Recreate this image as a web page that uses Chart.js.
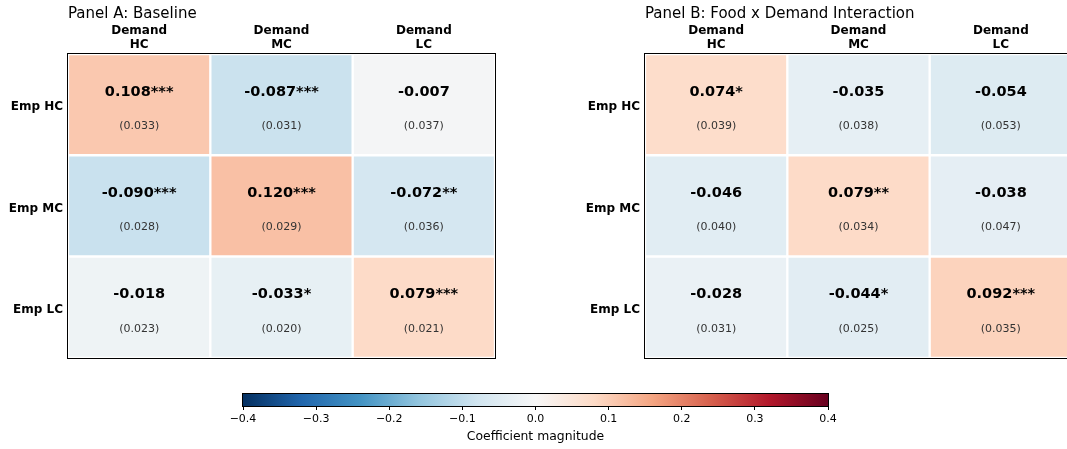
<!DOCTYPE html>
<html><head><meta charset="utf-8">
<script src="https://cdn.jsdelivr.net/npm/chart.js@4.4.1/dist/chart.umd.min.js"></script>
<style>
html,body{margin:0;padding:0;background:#fff;width:1067px;height:449px;overflow:hidden;position:relative;}
.box{position:absolute;}
</style></head><body>
<div class="box" style="left:0;top:0;width:520px;height:370px"><canvas id="cA"></canvas></div>
<div class="box" style="left:577px;top:0;width:520px;height:370px"><canvas id="cB"></canvas></div>
<div class="box" style="left:0;top:380px;width:1067px;height:69px"><canvas id="cBar"></canvas></div>
<script>
// ---- data ----
const colLabels = [['Demand', 'HC'], ['Demand', 'MC'], ['Demand', 'LC']];
const rowLabels = ['Emp HC', 'Emp MC', 'Emp LC'];

const titleA = 'Panel A: Baseline';
const coefA = [[0.108, -0.087, -0.007], [-0.090, 0.120, -0.072], [-0.018, -0.033, 0.079]];
const seA = [[0.033, 0.031, 0.037], [0.028, 0.029, 0.036], [0.023, 0.020, 0.021]];
const starsA = [['***', '***', ''], ['***', '***', '**'], ['', '*', '***']];

const titleB = 'Panel B: Food x Demand Interaction';
const coefB = [[0.074, -0.035, -0.054], [-0.046, 0.079, -0.038], [-0.028, -0.044, 0.092]];
const seB = [[0.039, 0.038, 0.053], [0.040, 0.034, 0.047], [0.031, 0.025, 0.035]];
const starsB = [['*', '', ''], ['', '**', ''], ['', '*', '***']];

const cbMin = -0.4, cbMax = 0.4, cbStep = 0.1;
const cbTitle = 'Coefficient magnitude';

// ---- colormap (RdBu_r) ----
const rdbuStops = ['#053061', '#2166ac', '#4393c3', '#92c5de', '#d1e5f0', '#f7f7f7',
  '#fddbc7', '#f4a582', '#d6604d', '#b2182b', '#67001f'];
function hex2rgb(h) { return [1, 3, 5].map(i => parseInt(h.substr(i, 2), 16)); }
function cmap(v) {
  let t = (v - cbMin) / (cbMax - cbMin);
  t = Math.max(0, Math.min(1, t));
  const p = t * (rdbuStops.length - 1);
  const i = Math.min(Math.floor(p), rdbuStops.length - 2);
  const f = p - i;
  const a = hex2rgb(rdbuStops[i]), b = hex2rgb(rdbuStops[i + 1]);
  const c = a.map((x, k) => Math.round(x + (b[k] - x) * f));
  return `rgb(${c[0]},${c[1]},${c[2]})`;
}

const FONT = "'DejaVu Sans', 'Liberation Sans', sans-serif";
Chart.defaults.font.family = FONT;
Chart.defaults.color = '#000';

function framePlugin() {
  return {
    id: 'frame',
    afterDraw(chart) {
      const a = chart.chartArea, ctx = chart.ctx;
      ctx.save();
      ctx.strokeStyle = '#000';
      ctx.lineWidth = 1;
      ctx.strokeRect(Math.round(a.left) - 0.5, Math.round(a.top) - 0.5,
        Math.round(a.right - a.left) + 1, Math.round(a.bottom - a.top) + 1);
      ctx.restore();
    }
  };
}

function heatmap(id, title, coef, se, stars) {
  const datasets = coef.map((row, r) => ({
    label: rowLabels[r],
    data: row.map(() => [r, r + 1]),
    backgroundColor: row.map(v => cmap(v)),
    borderColor: '#fff',
    borderWidth: 1.5,
    borderSkipped: false,
    grouped: false,
    barPercentage: 1,
    categoryPercentage: 1
  }));
  const textPlugin = {
    id: 'cellText',
    afterDatasetsDraw(chart) {
      const ctx = chart.ctx;
      ctx.save();
      ctx.textAlign = 'center';
      ctx.textBaseline = 'alphabetic';
      chart.data.datasets.forEach((ds, r) => {
        chart.getDatasetMeta(r).data.forEach((el, c) => {
          const cx = el.x, cy = (el.y + el.base) / 2;
          ctx.fillStyle = '#000';
          ctx.font = `bold 14.5px ${FONT}`;
          ctx.fillText(coef[r][c].toFixed(3) + stars[r][c], cx, cy - 9);
          ctx.fillStyle = '#333';
          ctx.font = `11px ${FONT}`;
          ctx.fillText('(' + se[r][c].toFixed(3) + ')', cx, cy + 24.5);
        });
      });
      ctx.restore();
    },
    afterDraw(chart) {
      const ctx = chart.ctx;
      ctx.save();
      ctx.fillStyle = '#000';
      ctx.font = `15px ${FONT}`;
      ctx.textAlign = 'left';
      ctx.textBaseline = 'alphabetic';
      ctx.fillText(title, chart.chartArea.left, 17.5);
      ctx.restore();
    }
  };
  return new Chart(document.getElementById(id), {
    type: 'bar',
    data: { labels: colLabels, datasets },
    options: {
      responsive: true,
      maintainAspectRatio: false,
      animation: false,
      layout: { padding: { left: 0, right: 25, top: 0, bottom: 11 } },
      plugins: { legend: { display: false }, tooltip: { enabled: false }, title: { display: false } },
      scales: {
        x: {
          type: 'category',
          position: 'top',
          grid: { display: false, drawTicks: false },
          border: { display: false },
          ticks: { font: { size: 12, weight: 'bold', lineHeight: 1.2 }, color: '#000', padding: 2, maxRotation: 0 },
          afterFit(s) { s.height = 54; }
        },
        y: {
          type: 'linear',
          min: 0, max: rowLabels.length,
          reverse: true,
          grid: { display: false, drawTicks: false },
          border: { display: false },
          afterBuildTicks(s) { s.ticks = rowLabels.map((_, i) => ({ value: i + 0.5 })); },
          ticks: {
            font: { size: 12, weight: 'bold' }, color: '#000', padding: 5, labelOffset: 2.5,
            callback: (v) => rowLabels[Math.floor(v)]
          },
          afterFit(s) { s.width = 68; }
        }
      }
    },
    plugins: [textPlugin, framePlugin()]
  });
}

heatmap('cA', titleA, coefA, seA, starsA);
heatmap('cB', titleB, coefB, seB, starsB);

// ---- colorbar ----
new Chart(document.getElementById('cBar'), {
  type: 'bar',
  data: {
    labels: [''],
    datasets: [{
      data: [[cbMin, cbMax]],
      backgroundColor: (c) => {
        const ch = c.chart;
        if (!ch.chartArea) return '#ccc';
        const x0 = ch.scales.x.getPixelForValue(cbMin), x1 = ch.scales.x.getPixelForValue(cbMax);
        const g = ch.ctx.createLinearGradient(x0, 0, x1, 0);
        rdbuStops.forEach((col, i) => g.addColorStop(i / (rdbuStops.length - 1), col));
        return g;
      },
      borderWidth: 0,
      barPercentage: 1,
      categoryPercentage: 1
    }]
  },
  options: {
    indexAxis: 'y',
    responsive: true,
    maintainAspectRatio: false,
    animation: false,
    layout: { padding: { left: 243, right: 239, top: 14, bottom: 0 } },
    plugins: { legend: { display: false }, tooltip: { enabled: false } },
    scales: {
      x: {
        type: 'linear',
        min: cbMin, max: cbMax,
        grid: { display: true, drawOnChartArea: false, drawTicks: true, tickLength: 4, color: '#000', lineWidth: 1 },
        border: { display: false },
        ticks: {
          stepSize: cbStep, font: { size: 11 }, color: '#000', padding: 3, maxRotation: 0,
          callback: (v) => Math.abs(v) < 1e-9 ? '0.0' : (v < 0 ? '\u2212' + Math.abs(v).toFixed(1) : v.toFixed(1))
        },
        title: { display: true, text: cbTitle, font: { size: 12.4 }, color: '#000', padding: { top: 1, bottom: 5 } },
        afterFit(s) { s.height = 43; }
      },
      y: { display: false }
    }
  },
  plugins: [framePlugin()]
});
</script>
</body></html>
